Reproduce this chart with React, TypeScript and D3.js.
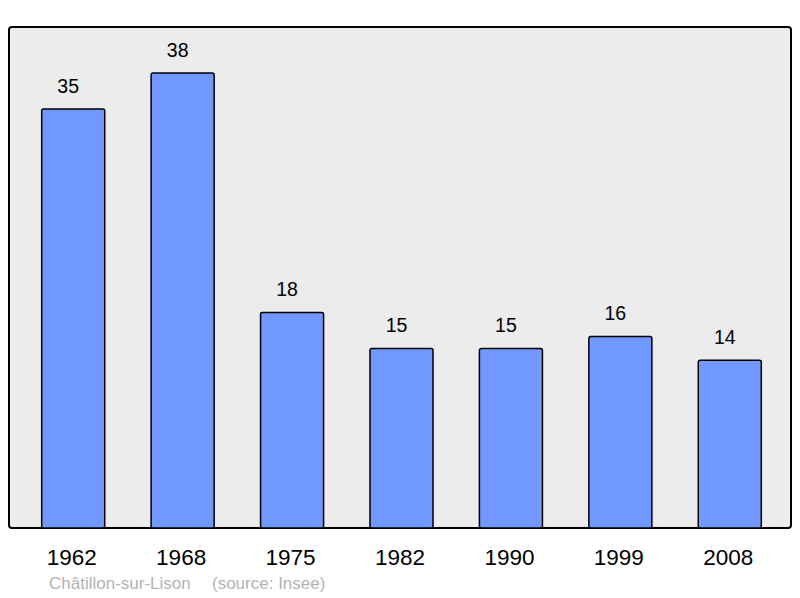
import React from "react";
import * as d3 from "d3";

const years = ["1962", "1968", "1975", "1982", "1990", "1999", "2008"];
const population = [35, 38, 18, 15, 15, 16, 14];
const commune = "Châtillon-sur-Lison";
const source = "(source: Insee)";

export default function App() {
  const width = 800;
  const height = 598;
  const frame = { left: 9, top: 27, right: 791, bottom: 528 };

  const x = d3
    .scaleBand<string>()
    .domain(years)
    .range([18.5, 784.5])
    .paddingInner(0.424)
    .paddingOuter(0.212);

  const y = d3.scaleLinear().domain([0, 38]).range([frame.bottom, 73]);

  return (
    <svg
      width={width}
      height={height}
      style={{ position: "absolute", left: 0, top: 0, fontFamily: "'Liberation Sans', Arial, sans-serif" }}
    >
      <rect
        x={frame.left}
        y={frame.top}
        width={frame.right - frame.left}
        height={frame.bottom - frame.top}
        rx={3}
        fill="#ececec"
        stroke="#000"
        strokeWidth={2}
      />
      {years.map((yr, i) => {
        const bx = x(yr)!;
        const v = population[i];
        return (
          <g key={yr}>
            <rect
              x={bx}
              y={y(v)}
              width={x.bandwidth()}
              height={frame.bottom - y(v)}
              rx={2}
              fill="#7098ff"
              stroke="#000"
              strokeWidth={1.5}
            />
            <text
              x={bx + x.bandwidth() / 2 - 5}
              y={y(v) - 16}
              textAnchor="middle"
              fontSize={19.5}
              fill="#000"
            >
              {v}
            </text>
            <text
              x={bx + x.bandwidth() / 2 - 1.5}
              y={565}
              textAnchor="middle"
              fontSize={22.5}
              fill="#000"
            >
              {yr}
            </text>
          </g>
        );
      })}
      <text x={49} y={589} fontSize={17} fill="#b3b3b3">
        {commune}
      </text>
      <text x={212} y={589} fontSize={17} fill="#b3b3b3">
        {source}
      </text>
    </svg>
  );
}
